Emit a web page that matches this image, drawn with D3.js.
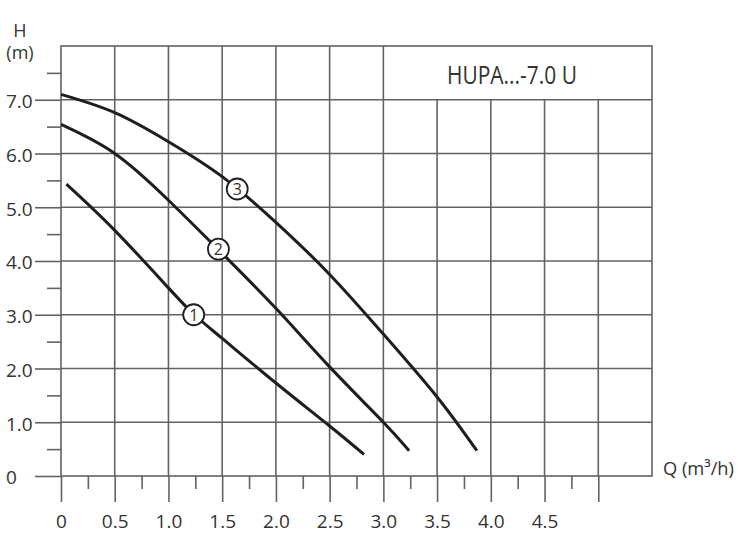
<!DOCTYPE html>
<html>
<head>
<meta charset="utf-8">
<script src="https://cdn.jsdelivr.net/npm/d3@7"></script>
<style>
  html, body { margin: 0; padding: 0; background: #fff; }
  svg { display: block; }
  text { font-family: "Open Sans", sans-serif; fill: #333; }
</style>
</head>
<body>
<svg id="chart" width="740" height="550"></svg>
<script>
// ---- data ----
const xMajorTicks = [0, 0.5, 1.0, 1.5, 2.0, 2.5, 3.0, 3.5, 4.0, 4.5, 5.0];
const xTickLabels = ["0", "0.5", "1.0", "1.5", "2.0", "2.5", "3.0", "3.5", "4.0", "4.5", ""];
const xMinorTicks = [0.25, 0.75, 1.25, 1.75, 2.25, 2.75, 3.25, 3.75, 4.25, 4.75];
const yMajorTicks = [0, 1, 2, 3, 4, 5, 6, 7];
const yTickLabels = ["0", "1.0", "2.0", "3.0", "4.0", "5.0", "6.0", "7.0"];
const yMinorTicks = [0.5, 1.5, 2.5, 3.5, 4.5, 5.5, 6.5, 7.5];

const curve1Q = [0.05, 0.5, 1.0, 1.24, 1.5, 2.0, 2.5, 2.82];
const curve1H = [5.43, 4.57, 3.5, 3.0, 2.56, 1.73, 0.93, 0.40];
const curve2Q = [0.0, 0.5, 1.0, 1.5, 2.0, 2.5, 3.0, 3.24];
const curve2H = [6.54, 6.0, 5.13, 4.14, 3.12, 2.03, 1.0, 0.47];
const curve3Q = [0.0, 0.5, 1.0, 1.5, 2.0, 2.5, 3.0, 3.5, 3.87];
const curve3H = [7.10, 6.76, 6.22, 5.57, 4.72, 3.75, 2.64, 1.47, 0.47];

const curveNames = ["1", "2", "3"];
const labelQ = [1.235, 1.465, 1.64];
const labelH = [3.0, 4.22, 5.34];

const titleText = "HUPA...-7.0 U";
const yTitle = ["H", "(m)"];
const xTitle = "Q (m³/h)";

// ---- layout ----
const svg = d3.select("#chart");
const plotLeft = 61, plotRight = 652, plotTop = 46, plotBottom = 476;
const x = d3.scaleLinear().domain([0, 5.5]).range([plotLeft, plotRight]);
const y = d3.scaleLinear().domain([0, 8]).range([plotBottom, plotTop]);
const gridColor = "#626262";
const gridW = 1.6;

// grid lines
const g = svg.append("g");
g.selectAll("line.vgrid").data(xMajorTicks.filter(d => d > 0)).join("line")
  .attr("x1", d => x(d)).attr("x2", d => x(d))
  .attr("y1", d => d >= 3.5 ? y(7) : y(8)).attr("y2", y(0))
  .attr("stroke", gridColor).attr("stroke-width", gridW);
g.selectAll("line.hgrid").data(yMajorTicks.filter(d => d > 0)).join("line")
  .attr("x1", x(0)).attr("x2", x(5.5))
  .attr("y1", d => y(d)).attr("y2", d => y(d))
  .attr("stroke", gridColor).attr("stroke-width", gridW);
// frame
g.append("rect").attr("x", x(0)).attr("y", y(8))
  .attr("width", x(5.5) - x(0)).attr("height", y(0) - y(8))
  .attr("fill", "none").attr("stroke", gridColor).attr("stroke-width", gridW);

// axes
function styleAxis(sel) {
  sel.select(".domain").remove();
  sel.selectAll(".tick line").attr("stroke", gridColor).attr("stroke-width", gridW);
  sel.selectAll(".tick text").style("font-size", "19px").attr("fill", "#333");
}
const xAxis = svg.append("g").attr("transform", `translate(0,${plotBottom})`)
  .call(d3.axisBottom(x).tickValues(xMajorTicks).tickSize(26).tickPadding(13)
    .tickFormat((d, i) => xTickLabels[i]));
styleAxis(xAxis);
const xMinor = svg.append("g").attr("transform", `translate(0,${plotBottom})`)
  .call(d3.axisBottom(x).tickValues(xMinorTicks).tickSize(13).tickFormat(""));
styleAxis(xMinor);

const yAxis = svg.append("g").attr("transform", `translate(${plotLeft},0)`)
  .call(d3.axisLeft(y).tickValues(yMajorTicks).tickSize(26)
    .tickFormat((d, i) => yTickLabels[i]));
styleAxis(yAxis);
yAxis.selectAll(".tick text").attr("text-anchor", "start").attr("x", -55).attr("dy", "0.42em");
const yMinor = svg.append("g").attr("transform", `translate(${plotLeft},0)`)
  .call(d3.axisLeft(y).tickValues(yMinorTicks).tickSize(14).tickFormat(""));
styleAxis(yMinor);

// axis titles
svg.append("text").attr("x", 20).attr("y", 37).attr("text-anchor", "middle")
  .style("font-size", "18px").text(yTitle[0]);
svg.append("text").attr("x", 20).attr("y", 59).attr("text-anchor", "middle")
  .style("font-size", "18px").text(yTitle[1]);
svg.append("text").attr("x", 663).attr("y", 475).attr("text-anchor", "start")
  .attr("textLength", 71).attr("lengthAdjust", "spacingAndGlyphs")
  .style("font-size", "19px").text(xTitle);

// title
svg.append("text").attr("x", 447).attr("y", 84).attr("text-anchor", "start")
  .attr("textLength", 130).attr("lengthAdjust", "spacingAndGlyphs")
  .style("font-size", "25px").text(titleText);

// curves
const curves = [
  curve1Q.map((q, i) => [q, curve1H[i]]),
  curve2Q.map((q, i) => [q, curve2H[i]]),
  curve3Q.map((q, i) => [q, curve3H[i]])
];
const line = d3.line().x(d => x(d[0])).y(d => y(d[1])).curve(d3.curveNatural);
svg.append("g").selectAll("path").data(curves).join("path")
  .attr("d", line).attr("fill", "none").attr("stroke", "#1e1e1e")
  .attr("stroke-width", 3).attr("stroke-linecap", "butt");

// curve labels
const lab = svg.append("g").selectAll("g").data(curveNames).join("g")
  .attr("transform", (d, i) => `translate(${x(labelQ[i])},${y(labelH[i])})`);
lab.append("circle").attr("r", 10.5).attr("fill", "#fff")
  .attr("stroke", "#1e1e1e").attr("stroke-width", 1.8);
lab.append("text").attr("text-anchor", "middle").attr("dy", "0.36em")
  .style("font-size", "16px").attr("fill", "#444").text(d => d);
</script>
</body>
</html>
